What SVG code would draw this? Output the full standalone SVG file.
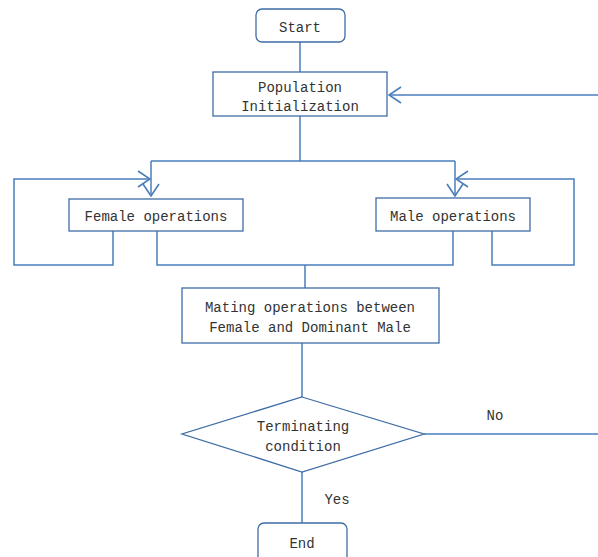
<svg xmlns="http://www.w3.org/2000/svg" width="598" height="557" viewBox="0 0 598 557">
<style>
.box{fill:#fff;stroke:#3f6ca6;stroke-width:1.3}
.ln{fill:none;stroke:#4a7ebb;stroke-width:1.5}
.t{font-family:"Liberation Mono",monospace;font-size:14px;fill:#333;text-anchor:middle}
</style>
<defs>
<marker id="ar" viewBox="0 0 14 18" refX="13" refY="9" markerWidth="14" markerHeight="18" markerUnits="userSpaceOnUse" orient="auto">
<path d="M1,1 L13,9 L1,17" fill="none" stroke="#4a7ebb" stroke-width="1.6"/>
</marker>
</defs>
<g id="connectors">
<path class="ln" d="M300,42 V72"/>
<path class="ln" d="M598,95 H389" marker-end="url(#ar)"/>
<path class="ln" d="M300,116 V161 M151,161 H455"/>
<path class="ln" d="M151,161 V196" marker-end="url(#ar)"/>
<path class="ln" d="M455,161 V196" marker-end="url(#ar)"/>
<path class="ln" d="M113,231 V265 H14 V179 H150" marker-end="url(#ar)"/>
<path class="ln" d="M492,231 V265 H574 V179 H456" marker-end="url(#ar)"/>
<path class="ln" d="M157,231 V265 H453 V231 M305,265 V288"/>
<path class="ln" d="M302,343 V397"/>
<path class="ln" d="M424,434 H598"/>
<path class="ln" d="M302,472 V523"/>
<text class="t" x="495" y="420">No</text>
<text class="t" x="337" y="504">Yes</text>
</g>
<g id="start"><rect class="box" x="256" y="9" width="89" height="33" rx="6"/><text class="t" x="300" y="32">Start</text></g>
<g id="init"><rect class="box" x="213" y="72" width="174" height="44"/><text class="t" x="300" y="92">Population</text><text class="t" x="300" y="111">Initialization</text></g>
<g id="female"><rect class="box" x="69" y="199" width="174" height="32"/><text class="t" x="156" y="221">Female operations</text></g>
<g id="male"><rect class="box" x="376" y="198" width="154" height="33"/><text class="t" x="453" y="221">Male operations</text></g>
<g id="mating"><rect class="box" x="182" y="288" width="257" height="55"/><text class="t" x="310" y="312">Mating operations between</text><text class="t" x="310" y="332">Female and Dominant Male</text></g>
<g id="term"><path class="box" d="M302,397 L424,434 L302,472 L182,434 Z"/><text class="t" x="303" y="431">Terminating</text><text class="t" x="303" y="451">condition</text></g>
<g id="end"><rect class="box" x="258" y="523" width="89" height="40" rx="6"/><text class="t" x="302" y="548">End</text></g>
</svg>
